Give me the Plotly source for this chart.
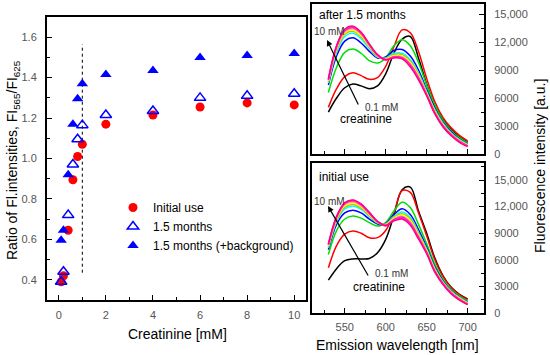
import plotly.graph_objects as go

# ---------------- Left panel data ----------------
conc = [0.1, 0.2, 0.4, 0.6, 0.8, 1, 2, 4, 6, 8, 10]
ratio_initial = [0.39, 0.42, 0.645, 0.895, 1.01, 1.07, 1.17, 1.215, 1.255, 1.275, 1.265]
ratio_15m = [0.39, 0.44, 0.72, 0.97, 1.095, 1.165, 1.215, 1.235, 1.30, 1.31, 1.32]
ratio_15m_bg = [0.595, 0.645, 0.92, 1.17, 1.295, 1.37, 1.415, 1.435, 1.50, 1.51, 1.52]
guide_x = [1, 1]
guide_y = [0.435, 1.565]

# ---------------- Spectra data ----------------
wl = [530, 540, 550, 560, 570, 580, 590, 600, 610, 620, 630, 640, 650, 660, 670, 680, 690, 700]
spec_labels = ["0.1 mM", "0.2 mM", "0.4 mM", "0.6 mM", "0.8 mM", "1 mM",
               "2 mM", "4 mM", "6 mM", "8 mM", "10 mM"]
spec_colors = ['#000000', '#FF0000', '#00E000', '#0000FF', '#00FFFF', '#C0C000',
               '#FFFF00', '#FF80C0', '#FF00FF', '#FF40A0', '#FF0080']

after_15 = [
    [4500, 6000, 7100, 7500, 7300, 7000, 7300, 8600, 10800, 12300, 12600, 10300, 7500, 5200, 3700, 2600, 1850, 1300],
    [5000, 7000, 8300, 8700, 8400, 8000, 8200, 9400, 11500, 13300, 13000, 11000, 8100, 5600, 3900, 2800, 2000, 1400],
    [6600, 9300, 10900, 11250, 10800, 10000, 9750, 10300, 11600, 12250, 11600, 9800, 7400, 5200, 3600, 2500, 1750, 1200],
    [7400, 10500, 12100, 12450, 11900, 11000, 10300, 10400, 11100, 11200, 10500, 9000, 6900, 4900, 3400, 2350, 1600, 1100],
    [7600, 10900, 12600, 12950, 12350, 11300, 10400, 10300, 10800, 10800, 10100, 8700, 6700, 4750, 3300, 2250, 1550, 1050],
    [7700, 11100, 12850, 13150, 12550, 11450, 10450, 10250, 10650, 10650, 9950, 8550, 6600, 4650, 3200, 2200, 1500, 1000],
    [7800, 11250, 13000, 13300, 12700, 11550, 10500, 10200, 10550, 10500, 9800, 8400, 6500, 4550, 3150, 2150, 1450, 950],
    [7900, 11400, 13150, 13450, 12850, 11650, 10550, 10150, 10450, 10400, 9650, 8250, 6400, 4450, 3050, 2100, 1400, 900],
    [7950, 11500, 13250, 13550, 12950, 11700, 10600, 10100, 10400, 10300, 9550, 8150, 6350, 4400, 3000, 2050, 1350, 870],
    [8000, 11550, 13300, 13620, 13000, 11750, 10600, 10100, 10350, 10250, 9450, 8050, 6300, 4350, 2950, 2000, 1300, 840],
    [8050, 11600, 13380, 13700, 13050, 11800, 10650, 10100, 10300, 10200, 9350, 7950, 6250, 4300, 2900, 1950, 1250, 800],
]

initial = [
    [3700, 5000, 5900, 6100, 6100, 6150, 6800, 8300, 11000, 13900, 14200, 11500, 9000, 6200, 4200, 2900, 2100, 1600],
    [5100, 7600, 8900, 9250, 9000, 8500, 8500, 9300, 11300, 13800, 13600, 11300, 8700, 6000, 4100, 2850, 2050, 1500],
    [6600, 9300, 10600, 10950, 10700, 10200, 9800, 10200, 11500, 12500, 11900, 10000, 7800, 5500, 3800, 2650, 1900, 1350],
    [7150, 10000, 11300, 11600, 11300, 10600, 10050, 10100, 11100, 11750, 11100, 9400, 7400, 5200, 3600, 2500, 1800, 1250],
    [7350, 10300, 11750, 12050, 11700, 10900, 10150, 10050, 10900, 11400, 10800, 9100, 7200, 5050, 3500, 2450, 1750, 1200],
    [7450, 10450, 11950, 12250, 11850, 11000, 10200, 10000, 10800, 11200, 10600, 8950, 7100, 4950, 3450, 2400, 1700, 1150],
    [7550, 10600, 12100, 12400, 12000, 11100, 10250, 9950, 10700, 11050, 10400, 8800, 7000, 4850, 3400, 2350, 1650, 1100],
    [7650, 10700, 12250, 12550, 12100, 11200, 10300, 9900, 10600, 10900, 10250, 8650, 6900, 4750, 3350, 2300, 1600, 1050],
    [7700, 10800, 12350, 12650, 12200, 11250, 10300, 9900, 10500, 10800, 10100, 8550, 6800, 4700, 3300, 2250, 1550, 1000],
    [7750, 10850, 12400, 12700, 12250, 11300, 10300, 9850, 10450, 10700, 10000, 8450, 6750, 4650, 3250, 2200, 1500, 970],
    [7800, 10900, 12450, 12750, 12300, 11350, 10350, 9850, 10400, 10600, 9900, 8350, 6700, 4600, 3200, 2150, 1450, 940],
]

int_tickvals = [0, 3000, 6000, 9000, 12000, 15000]
int_ticktext = ["0", "3000", "6000", "9000", "12,000", "15,000"]

W, H = 550, 355
FONT = "Arial, Liberation Sans, sans-serif"
TICKC = "#555555"

def px(x):
    return x / W

def py(y):
    return 1 - y / H

fig = go.Figure()

# Left panel traces
fig.add_trace(go.Scatter(x=guide_x, y=guide_y, mode="lines",
                         line=dict(color="black", width=1, dash="dot"),
                         showlegend=False, xaxis="x", yaxis="y"))
fig.add_trace(go.Scatter(x=conc, y=ratio_initial, mode="markers", name="Initial use",
                         marker=dict(symbol="circle", size=9, color="#FF0000"),
                         xaxis="x", yaxis="y"))
fig.add_trace(go.Scatter(x=conc, y=ratio_15m, mode="markers", name="1.5 months",
                         marker=dict(symbol="triangle-up-open", size=10, color="#0000FF",
                                     line=dict(width=1.5, color="#0000FF")),
                         xaxis="x", yaxis="y"))
fig.add_trace(go.Scatter(x=conc, y=ratio_15m_bg, mode="markers", name="1.5 months (+background)",
                         marker=dict(symbol="triangle-up", size=10, color="#0000FF"),
                         xaxis="x", yaxis="y"))

# Spectra
for vals, col, lab in zip(after_15, spec_colors, spec_labels):
    fig.add_trace(go.Scatter(x=wl, y=vals, mode="lines", name=lab, showlegend=False,
                             line=dict(color=col, width=1.5, shape="spline", smoothing=1),
                             xaxis="x2", yaxis="y2"))
for vals, col, lab in zip(initial, spec_colors, spec_labels):
    fig.add_trace(go.Scatter(x=wl, y=vals, mode="lines", name=lab, showlegend=False,
                             line=dict(color=col, width=1.5, shape="spline", smoothing=1),
                             xaxis="x3", yaxis="y3"))

axis_common = dict(showline=True, linewidth=2, linecolor="black", mirror=True,
                   ticks="inside", ticklen=5, tickwidth=1, tickcolor="black",
                   showgrid=False, zeroline=False, automargin=False,
                   tickfont=dict(family=FONT, size=11, color=TICKC))

fig.update_layout(
    width=W, height=H,
    margin=dict(l=0, r=0, t=0, b=0, autoexpand=False),
    paper_bgcolor="white", plot_bgcolor="white",
    font=dict(family=FONT, color="black"),
    xaxis=dict(domain=[px(47), px(306)], range=[-0.5, 10.5], anchor="y",
               tickvals=[0, 2, 4, 6, 8, 10], ticklabelstandoff=4,
               minor=dict(dtick=1, ticks="inside", ticklen=3, tickcolor="black"),
               **axis_common),
    yaxis=dict(domain=[py(300), py(17)], range=[0.3, 1.7], anchor="x",
               tickvals=[0.4, 0.6, 0.8, 1.0, 1.2, 1.4, 1.6], tickformat=".1f",
               ticklabelstandoff=6,
               minor=dict(dtick=0.1, tick0=0.3, ticks="inside", ticklen=3, tickcolor="black"),
               **axis_common),
    xaxis2=dict(domain=[px(312), px(484)], range=[510, 720], anchor="y2",
                tickvals=[550, 600, 650, 700], showticklabels=False,
                minor=dict(dtick=25, tick0=525, ticks="inside", ticklen=3, tickcolor="black"),
                **axis_common),
    yaxis2=dict(domain=[py(154), py(4)], range=[0, 16080], anchor="x2", side="right",
                tickvals=int_tickvals, ticktext=int_ticktext, ticklabelstandoff=6,
                minor=dict(dtick=1500, ticks="inside", ticklen=3, tickcolor="black"),
                **axis_common),
    xaxis3=dict(domain=[px(312), px(484)], range=[510, 720], anchor="y3",
                tickvals=[550, 600, 650, 700], ticklabelstandoff=3,
                minor=dict(dtick=25, tick0=525, ticks="inside", ticklen=3, tickcolor="black"),
                **axis_common),
    yaxis3=dict(domain=[py(313), py(163)], range=[0, 16920], anchor="x3", side="right",
                tickvals=int_tickvals, ticktext=int_ticktext, ticklabelstandoff=6,
                minor=dict(dtick=1500, ticks="inside", ticklen=3, tickcolor="black"),
                **axis_common),
    legend=dict(x=px(113), y=py(193), xanchor="left", yanchor="top",
                bgcolor="rgba(0,0,0,0)", font=dict(family=FONT, size=12, color="black"),
                itemwidth=30),
    showlegend=True,
)

annots = [
    dict(x=px(13), y=py(160), text="Ratio of Fl.intensities, FI<sub>565</sub>/FI<sub>625</sub>",
         textangle=-90, font=dict(size=14), showarrow=False),
    dict(x=px(177), y=py(334), text="Creatinine [mM]", font=dict(size=14), showarrow=False),
    dict(x=px(397), y=py(345), text="Emission wavelength [nm]", font=dict(size=14), showarrow=False),
    dict(x=px(540), y=py(166), text="Fluorescence intensity [a.u.]", textangle=-90,
         font=dict(size=14), showarrow=False),
    # top panel labels
    dict(x=px(317), y=py(15), text="after 1.5 months", xanchor="left", font=dict(size=12),
         showarrow=False),
    dict(x=px(312), y=py(32), text="10 mM", xanchor="left", font=dict(size=10, color="#333"),
         showarrow=False),
    dict(x=px(363), y=py(107), text="0.1 mM", xanchor="left", font=dict(size=10, color="#333"),
         showarrow=False),
    dict(x=px(338), y=py(119), text="creatinine", xanchor="left", font=dict(size=12),
         showarrow=False),
    # bottom panel labels
    dict(x=px(317), y=py(177), text="initial use", xanchor="left", font=dict(size=12),
         showarrow=False),
    dict(x=px(312), y=py(201), text="10 mM", xanchor="left", font=dict(size=10, color="#333"),
         showarrow=False),
    dict(x=px(373), y=py(273), text="0.1 mM", xanchor="left", font=dict(size=10, color="#333"),
         showarrow=False),
    dict(x=px(351), y=py(287), text="creatinine", xanchor="left", font=dict(size=12),
         showarrow=False),
]
for a in annots:
    a.setdefault("xanchor", "center")
    a.setdefault("yanchor", "middle")
arrows = [
    dict(x=px(327), y=py(40), ax=32, ay=66, text="", showarrow=True, arrowhead=2,
         arrowsize=1, arrowwidth=1.2, arrowcolor="black"),
    dict(x=px(328), y=py(206), ax=41, ay=71, text="", showarrow=True, arrowhead=2,
         arrowsize=1, arrowwidth=1.2, arrowcolor="black"),
]
annots += arrows
for a in annots:
    a.setdefault("xref", "paper")
    a.setdefault("yref", "paper")
fig.update_layout(annotations=annots)

css_js = (
    "var s=document.createElement('style');"
    "s.innerHTML='html,body{margin:0!important;padding:0!important;overflow:hidden!important;}';"
    "document.head.appendChild(s);"
)
fig.write_html("out.html", config={"displayModeBar": False}, post_script=css_js)
